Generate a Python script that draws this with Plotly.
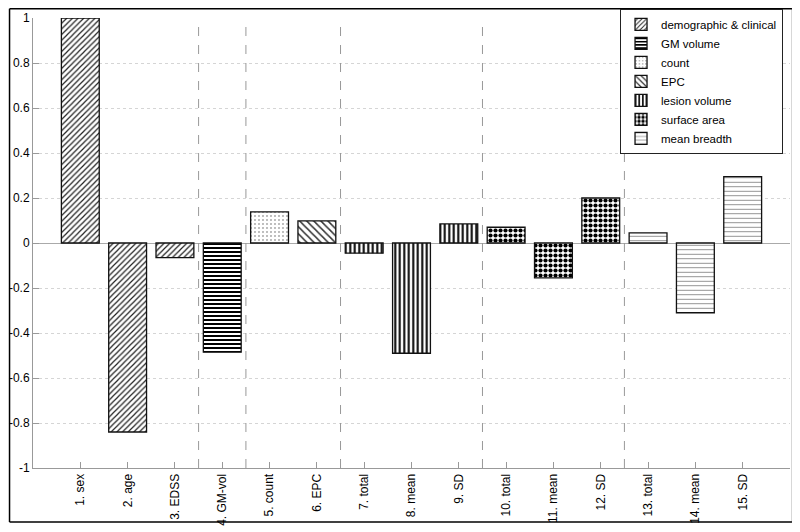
import plotly.graph_objects as go

labels = ["1. sex", "2. age", "3. EDSS", "4. GM-vol", "5. count", "6. EPC",
          "7. total", "8. mean", "9. SD", "10. total", "11. mean", "12. SD",
          "13. total", "14. mean", "15. SD"]
values = [1.0, -0.84, -0.065, -0.485, 0.138, 0.098, -0.045, -0.49, 0.085,
          0.07, -0.155, 0.2, 0.045, -0.31, 0.295]
groups = ["demographic & clinical"] * 3 + ["GM volume", "count", "EPC"] + \
         ["lesion volume"] * 3 + ["surface area"] * 3 + ["mean breadth"] * 3
group_order = ["demographic & clinical", "GM volume", "count", "EPC",
               "lesion volume", "surface area", "mean breadth"]
separators = [2.5, 3.5, 5.5, 8.5, 11.5]
yticks = [-1, -0.8, -0.6, -0.4, -0.2, 0, 0.2, 0.4, 0.6, 0.8, 1]
ytick_text = ["-1", "-0.8", "-0.6", "-0.4", "-0.2", "0", "0.2", "0.4", "0.6", "0.8", "1"]

patterns = {
    "demographic & clinical": dict(shape="/", size=4, solidity=0.3, fg="#222222"),
    "GM volume": dict(shape="-", size=4, solidity=0.5, fg="black"),
    "count": dict(shape=".", size=4, solidity=0.08, fg="#444444"),
    "EPC": dict(shape="\\", size=5, solidity=0.3, fg="#333333"),
    "lesion volume": dict(shape="|", size=4.5, solidity=0.45, fg="black"),
    "surface area": dict(shape=".", size=5, solidity=0.55, fg="black"),
    "mean breadth": dict(shape="-", size=4.5, solidity=0.2, fg="#888888"),
}

fig = go.Figure()
for g in group_order:
    xs = [l for l, gg in zip(labels, groups) if gg == g]
    ys = [v for v, gg in zip(values, groups) if gg == g]
    p = patterns[g]
    fig.add_trace(go.Bar(
        x=xs, y=ys, name=g, width=0.8,
        marker=dict(color="white", line=dict(color="#111111", width=1.3),
                    pattern=dict(shape=p["shape"], size=p["size"], solidity=p["solidity"],
                                 fgcolor=p["fg"], bgcolor="white", fillmode="replace")),
    ))

for s in separators:
    fig.add_shape(type="line", xref="x", yref="paper", x0=s, x1=s, y0=0, y1=1,
                  line=dict(color="#999999", width=1, dash="dash"), layer="above")

# figure frame (paper coords relative to plot area)
fl, fr_, ft, fb = -0.031, 1.0026, 1.0205, -0.12
fig.add_shape(type="line", xref="paper", yref="paper", x0=fr_, y0=fb, x1=fr_, y1=ft,
              line=dict(color="#cccccc", width=1.5))
fig.add_shape(type="line", xref="paper", yref="paper", x0=fl, y0=fb, x1=fl, y1=ft,
              line=dict(color="black", width=1.5))
fig.add_shape(type="line", xref="paper", yref="paper", x0=fl, y0=ft, x1=fr_, y1=ft,
              line=dict(color="black", width=1.5))
fig.add_shape(type="line", xref="paper", yref="paper", x0=fl, y0=fb, x1=fr_, y1=fb,
              line=dict(color="black", width=1.5))

fig.update_layout(
    width=792, height=524,
    margin=dict(l=25, r=10, t=10, b=64, autoexpand=False),
    paper_bgcolor="white", plot_bgcolor="white",
    barmode="overlay", bargap=0.2,
    font=dict(family="Liberation Sans, Arial, sans-serif", color="black", size=12),
    showlegend=True,
    legend=dict(x=0.9908, xanchor="right", y=1.0205, yanchor="top",
                bgcolor="white", bordercolor="#222222", borderwidth=1,
                font=dict(size=11.5), itemwidth=30, tracegroupgap=0),
    xaxis=dict(type="category", categoryorder="array", categoryarray=labels,
               range=[-1, 15], tickangle=-90, showline=True, linecolor="#999999",
               ticks="inside", ticklen=6, tickcolor="#999999", showgrid=False,
               zeroline=False, tickfont=dict(size=12), automargin=False),
    yaxis=dict(range=[-1, 1], tickvals=yticks, ticktext=ytick_text,
               showline=True, linecolor="#999999", ticks="inside", ticklen=6,
               tickcolor="#999999", showgrid=True, gridcolor="#d5d5d5", griddash="dot",
               zeroline=True, zerolinecolor="#aaaaaa", zerolinewidth=1,
               tickfont=dict(size=12), automargin=False),
)

fig.write_html("out.html")
